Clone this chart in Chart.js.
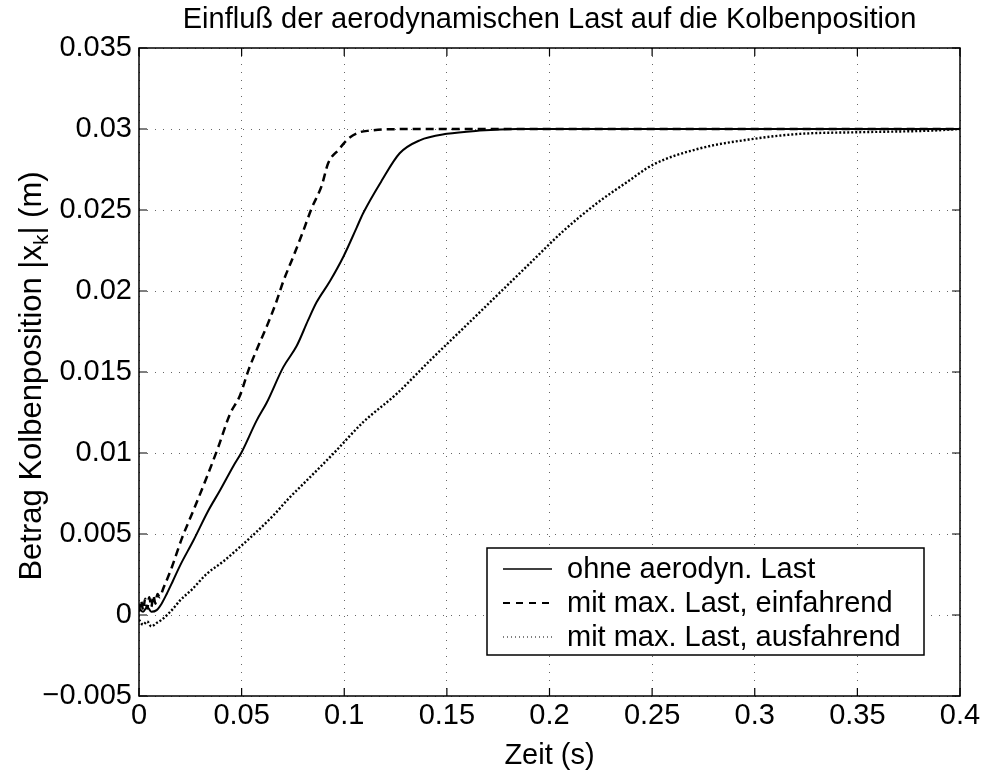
<!DOCTYPE html>
<html>
<head>
<meta charset="utf-8">
<script src="https://cdn.jsdelivr.net/npm/chart.js@4.4.0/dist/chart.umd.min.js"></script>
<style>
  html, body { margin: 0; padding: 0; background: #fff; }
  #wrap { width: 984px; height: 778px; }
</style>
</head>
<body>
<div id="wrap"><canvas id="c" width="984" height="778"></canvas></div>
<script>
// ---- data ----
const titleText = 'Einfluß der aerodynamischen Last auf die Kolbenposition';
const xTitle = 'Zeit (s)';
const seriesLabels = ['ohne aerodyn. Last', 'mit max. Last, einfahrend', 'mit max. Last, ausfahrend'];

const tOhne = [0, 0.002, 0.004, 0.006, 0.0086, 0.011, 0.0135, 0.0165, 0.02, 0.0265, 0.0338, 0.0395, 0.046, 0.05, 0.0573, 0.0622, 0.0703, 0.0768, 0.0824, 0.0865, 0.093, 0.0995, 0.106, 0.1092, 0.1182, 0.127, 0.1368, 0.15, 0.166, 0.184, 0.2, 0.3, 0.4];
const vOhne = [0.0004, 0.0002, 0.0005, 0.0002, 0.0003, 0.0007, 0.0013, 0.0021, 0.00305, 0.0046, 0.00645, 0.0077, 0.0092, 0.01005, 0.012, 0.0131, 0.0153, 0.0166, 0.0182, 0.0193, 0.0206, 0.0221, 0.0239, 0.0248, 0.0268, 0.0285, 0.0293, 0.0297, 0.0299, 0.03, 0.03, 0.03, 0.03];

const tEin = [0, 0.001, 0.002, 0.003, 0.004, 0.005, 0.006, 0.007, 0.008, 0.009, 0.010, 0.012, 0.014, 0.016, 0.0208, 0.0265, 0.033, 0.0386, 0.0443, 0.0492, 0.0533, 0.0581, 0.0622, 0.0671, 0.0703, 0.0751, 0.080, 0.0841, 0.089, 0.0922, 0.0971, 0.102, 0.1076, 0.1125, 0.12, 0.14, 0.2, 0.3, 0.4];
const vEin = [0.0002, 0.0009, 0.0003, 0.0010, 0.0004, 0.0011, 0.0005, 0.0012, 0.0007, 0.0013, 0.0011, 0.0017, 0.0023, 0.00295, 0.0047, 0.00645, 0.0085, 0.01036, 0.0124, 0.01355, 0.0151, 0.0166, 0.0178, 0.0194, 0.0206, 0.0221, 0.0237, 0.0251, 0.0265, 0.0279, 0.0287, 0.0294, 0.0298, 0.0299, 0.02998, 0.03, 0.03, 0.03, 0.03];

const tAus = [0, 0.002, 0.004, 0.006, 0.0085, 0.011, 0.0167, 0.02, 0.026, 0.033, 0.041, 0.0492, 0.057, 0.0654, 0.073, 0.0817, 0.0946, 0.1092, 0.1255, 0.1417, 0.158, 0.1742, 0.1904, 0.2067, 0.2229, 0.2375, 0.2505, 0.2732, 0.3, 0.322, 0.35, 0.386, 0.4];
const vAus = [-0.0003, -0.0006, -0.0004, -0.0007, -0.0005, -0.0003, 0.0004, 0.0009, 0.0016, 0.00254, 0.0033, 0.0042, 0.0051, 0.00614, 0.0072, 0.0083, 0.00995, 0.0119, 0.01365, 0.0157, 0.0177, 0.0197, 0.0217, 0.0237, 0.0254, 0.0267, 0.0278, 0.0288, 0.0294, 0.0297, 0.0298, 0.0299, 0.03];

const xTicks = [0, 0.05, 0.1, 0.15, 0.2, 0.25, 0.3, 0.35, 0.4];
const yTicks = [-0.005, 0, 0.005, 0.01, 0.015, 0.02, 0.025, 0.03, 0.035];

// ---- helpers ----
const FONT = '"Liberation Sans", Arial, Helvetica, sans-serif';
const pts = (t, v) => t.map((x, i) => ({ x: x, y: v[i] }));
const fmt = v => {
  const s = String(parseFloat(Math.abs(v).toFixed(4)));
  return v < -1e-9 ? '\u2212' + s : s;
};

const frame = {
  id: 'frame',
  afterDraw(chart) {
    const { ctx, chartArea: a, scales } = chart;
    const xs = scales.x, ys = scales.y;
    ctx.save();
    // box
    ctx.strokeStyle = '#000';
    ctx.lineWidth = 1.5;
    ctx.setLineDash([]);
    ctx.strokeRect(a.left, a.top, a.right - a.left, a.bottom - a.top);
    // inward ticks
    ctx.lineWidth = 1.2;
    ctx.beginPath();
    const L = 8;
    xTicks.forEach(v => {
      const p = xs.getPixelForValue(v);
      ctx.moveTo(p, a.bottom); ctx.lineTo(p, a.bottom - L);
      ctx.moveTo(p, a.top); ctx.lineTo(p, a.top + L);
    });
    yTicks.forEach(v => {
      const p = ys.getPixelForValue(v);
      ctx.moveTo(a.left, p); ctx.lineTo(a.left + L, p);
      ctx.moveTo(a.right, p); ctx.lineTo(a.right - L, p);
    });
    ctx.stroke();

    // title
    ctx.fillStyle = '#000';
    ctx.textAlign = 'center';
    ctx.textBaseline = 'middle';
    ctx.font = '29px ' + FONT;
    ctx.fillText(titleText, (a.left + a.right) / 2, 20);
    // x title
    ctx.font = '29px ' + FONT;
    ctx.fillText(xTitle, (a.left + a.right) / 2, 756);

    // y title with subscript
    ctx.save();
    ctx.translate(31, (a.top + a.bottom) / 2 + 4);
    ctx.rotate(-Math.PI / 2);
    const big = '31px ' + FONT, small = '21px ' + FONT;
    const p1 = 'Betrag Kolbenposition |x', p2 = 'k', p3 = '| (m)';
    ctx.font = big; const w1 = ctx.measureText(p1).width, w3 = ctx.measureText(p3).width;
    ctx.font = small; const w2 = ctx.measureText(p2).width;
    let x0 = -(w1 + w2 + w3) / 2;
    ctx.textAlign = 'left';
    ctx.textBaseline = 'alphabetic';
    ctx.font = big; ctx.fillText(p1, x0, 10);
    ctx.font = small; ctx.fillText(p2, x0 + w1, 17);
    ctx.font = big; ctx.fillText(p3, x0 + w1 + w2, 10);
    ctx.restore();

    // legend
    const lx = 487, ly = 548, lw = 437, lh = 107;
    ctx.fillStyle = '#fff';
    ctx.fillRect(lx, ly, lw, lh);
    ctx.strokeStyle = '#000';
    ctx.lineWidth = 1.5;
    ctx.setLineDash([]);
    ctx.strokeRect(lx, ly, lw, lh);
    const rows = [569, 603, 637];
    chart.data.datasets.forEach((ds, i) => {
      const y = rows[i];
      ctx.save();
      ctx.strokeStyle = ds.borderColor;
      ctx.lineWidth = ds.legendWidth;
      ctx.setLineDash(ds.legendDash);
      ctx.beginPath();
      ctx.moveTo(503, y); ctx.lineTo(552, y);
      ctx.stroke();
      ctx.restore();
      ctx.fillStyle = '#000';
      ctx.font = '29px ' + FONT;
      ctx.textAlign = 'left';
      ctx.textBaseline = 'middle';
      ctx.fillText(ds.label, 567, y + 1);
    });
    ctx.restore();
  }
};

const gridOpts = { color: 'rgba(0,0,0,0.6)', lineWidth: 1, drawTicks: false };

new Chart(document.getElementById('c'), {
  type: 'line',
  data: {
    datasets: [
      { label: seriesLabels[0], data: pts(tOhne, vOhne), borderColor: '#000', borderWidth: 2, borderDash: [],
        legendDash: [], legendWidth: 1.5, cubicInterpolationMode: 'monotone' },
      { label: seriesLabels[1], data: pts(tEin, vEin), borderColor: '#000', borderWidth: 2.5, borderDash: [8, 5],
        legendDash: [7, 6], legendWidth: 1.8, cubicInterpolationMode: 'monotone' },
      { label: seriesLabels[2], data: pts(tAus, vAus), borderColor: '#000', borderWidth: 2.4, borderDash: [2, 2],
        legendDash: [1, 3], legendWidth: 1.2, cubicInterpolationMode: 'monotone' }
    ]
  },
  options: {
    responsive: false,
    animation: false,
    devicePixelRatio: 1,
    layout: { padding: { left: 0, right: 24, top: 48, bottom: 0 } },
    elements: { point: { radius: 0 } },
    plugins: { legend: { display: false }, title: { display: false }, tooltip: { enabled: false } },
    scales: {
      x: {
        type: 'linear', min: 0, max: 0.4,
        afterBuildTicks: s => { s.ticks = xTicks.map(v => ({ value: v })); },
        afterFit: s => { s.height = 82; },
        ticks: { callback: v => fmt(v), color: '#000', font: { family: FONT, size: 29 }, padding: 3, maxRotation: 0, autoSkip: false },
        grid: gridOpts,
        border: { display: false, dash: [1, 7] }
      },
      y: {
        type: 'linear', min: -0.005, max: 0.035,
        afterBuildTicks: s => { s.ticks = yTicks.map(v => ({ value: v })); },
        afterFit: s => { s.width = 139; },
        ticks: { callback: v => fmt(v), color: '#000', font: { family: FONT, size: 29 }, padding: 7, autoSkip: false },
        grid: gridOpts,
        border: { display: false, dash: [1, 7] }
      }
    }
  },
  plugins: [frame]
});
</script>
</body>
</html>
